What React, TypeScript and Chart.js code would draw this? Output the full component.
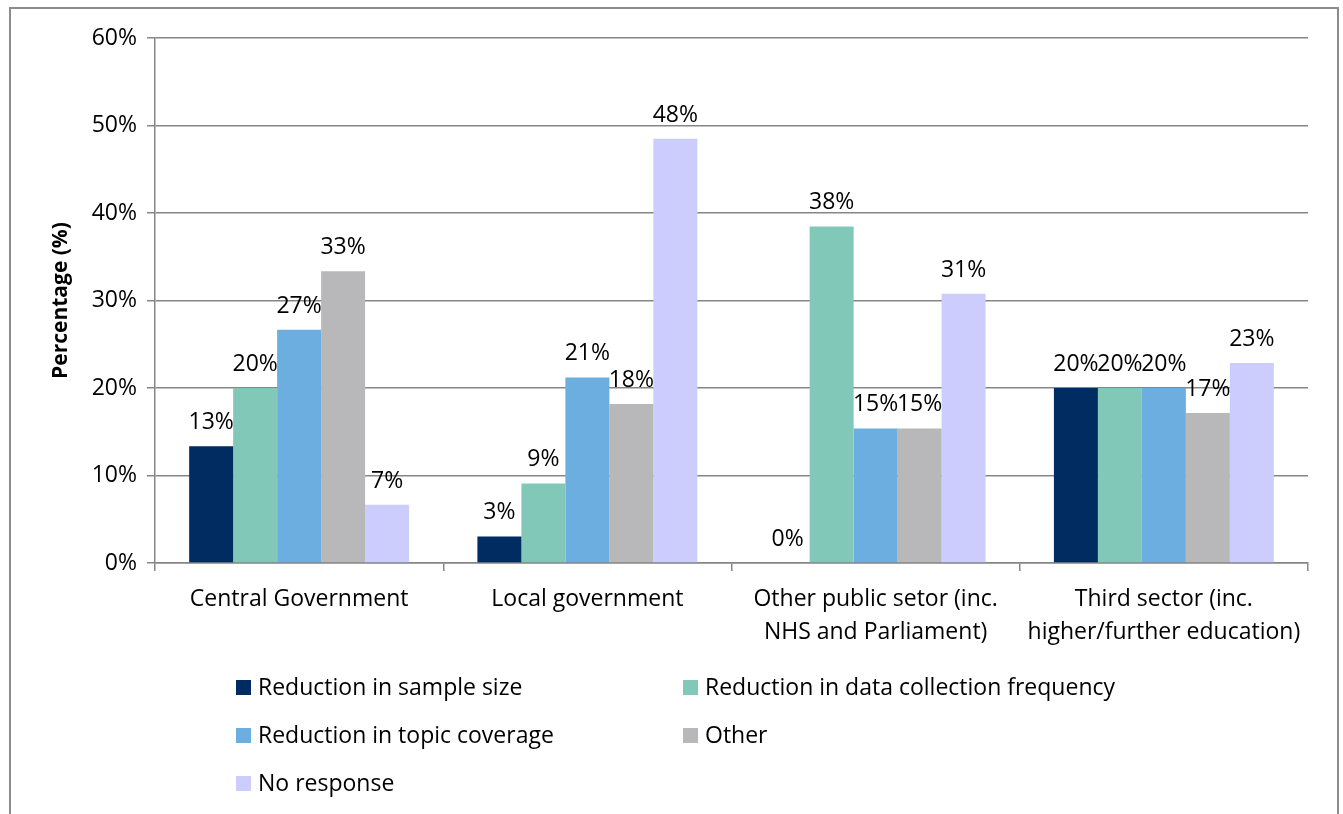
import React, { useEffect, useRef } from "react";
import { Chart, registerables } from "chart.js";

Chart.register(...registerables);

const categories: (string | string[])[] = [
  "Central Government",
  "Local government",
  ["Other public setor (inc.", "NHS and Parliament)"],
  ["Third sector (inc.", "higher/further education)"],
];
const seriesNames = [
  "Reduction in sample size",
  "Reduction in data collection frequency",
  "Reduction in topic coverage",
  "Other",
  "No response",
];
const sampleSize = [13.33, 3.03, 0, 20.0];
const collectionFrequency = [20.0, 9.09, 38.46, 20.0];
const topicCoverage = [26.67, 21.21, 15.38, 20.0];
const other = [33.33, 18.18, 15.38, 17.14];
const noResponse = [6.67, 48.48, 30.77, 22.86];
const colors = ["#002C62", "#82C8B9", "#6CAEDF", "#B8B8BA", "#CCCCFD"];
const yTicks = [0, 10, 20, 30, 40, 50, 60];

const FONT = "'Open Sans', Lato, sans-serif";
const FS = 23;

export default function App() {
  const ref = useRef<HTMLCanvasElement>(null);
  useEffect(() => {
    document.body.style.margin = "0";
    const canvas = ref.current!;
    const values = [sampleSize, collectionFrequency, topicCoverage, other, noResponse];
    const extras = {
      id: "extras",
      beforeDraw(chart: any) {
        const ctx = chart.ctx;
        ctx.save();
        ctx.strokeStyle = "#8C8C8C";
        ctx.lineWidth = 2;
        ctx.strokeRect(10, 8, 1328, 900);
        ctx.restore();
      },
      afterDatasetsDraw(chart: any) {
        const ctx = chart.ctx;
        ctx.save();
        ctx.font = `${FS}px ${FONT}`;
        ctx.fillStyle = "#000";
        ctx.textAlign = "center";
        ctx.textBaseline = "alphabetic";
        chart.data.datasets.forEach((ds: any, i: number) => {
          const meta = chart.getDatasetMeta(i);
          meta.data.forEach((bar: any, j: number) => {
            const v = ds.data[j];
            ctx.fillText(Math.round(v) + "%", bar.x, bar.y - 17);
          });
        });
        // legend
        const area = chart.chartArea;
        const cols = [area.left + 81, area.left + 528];
        const rows = [687, 735, 783];
        chart.data.datasets.forEach((ds: any, i: number) => {
          const cx = cols[i % 2];
          const cy = rows[Math.floor(i / 2)];
          ctx.fillStyle = ds.backgroundColor;
          ctx.fillRect(cx, cy - 7, 15, 15);
          ctx.fillStyle = "#000";
          ctx.textAlign = "left";
          ctx.textBaseline = "middle";
          ctx.fillText(ds.label, cx + 22, cy + 1);
        });
        ctx.restore();
      },
    };
    const chart = new Chart(canvas, {
      type: "bar",
      data: {
        labels: categories,
        datasets: seriesNames.map((name, i) => ({
          label: name,
          data: values[i],
          backgroundColor: colors[i],
          borderWidth: 0,
          categoryPercentage: 0.763,
          barPercentage: 1,
        })),
      },
      plugins: [extras],
      options: {
        animation: false,
        responsive: false,
        layout: { padding: { left: 0, top: 38, right: 35, bottom: 0 } },
        plugins: { legend: { display: false }, tooltip: { enabled: false } },
        scales: {
          x: {
            afterFit(scale: any) {
              scale.height = 814 - 563;
            },
            grid: {
              offset: true,
              drawOnChartArea: false,
              drawTicks: true,
              tickLength: 8,
              color: "#868686",
              lineWidth: 1.5,
            },
            border: { color: "#868686", width: 1.5 },
            ticks: {
              color: "#000",
              font: { family: FONT, size: FS, lineHeight: 1.43 },
              padding: 12,
              maxRotation: 0,
              autoSkip: false,
            },
          },
          y: {
            min: 0,
            max: 60,
            afterFit(scale: any) {
              scale.width = 155;
            },
            afterBuildTicks(scale: any) {
              scale.ticks = yTicks.map((v) => ({ value: v }));
            },
            grid: {
              color: "#868686",
              lineWidth: 1.5,
              tickLength: 8,
            },
            border: { color: "#868686", width: 1.5 },
            ticks: {
              color: "#000",
              font: { family: FONT, size: FS },
              padding: 10,
              callback: (v: any) => v + "%",
            },
            title: {
              display: true,
              text: "Percentage (%)",
              color: "#000",
              font: { family: FONT, size: 21, weight: "bold" },
              padding: { top: 48, bottom: 10 },
            },
          },
        },
      },
    });
    return () => chart.destroy();
  }, []);
  return <canvas ref={ref} width={1343} height={814} style={{ display: "block" }} />;
}
